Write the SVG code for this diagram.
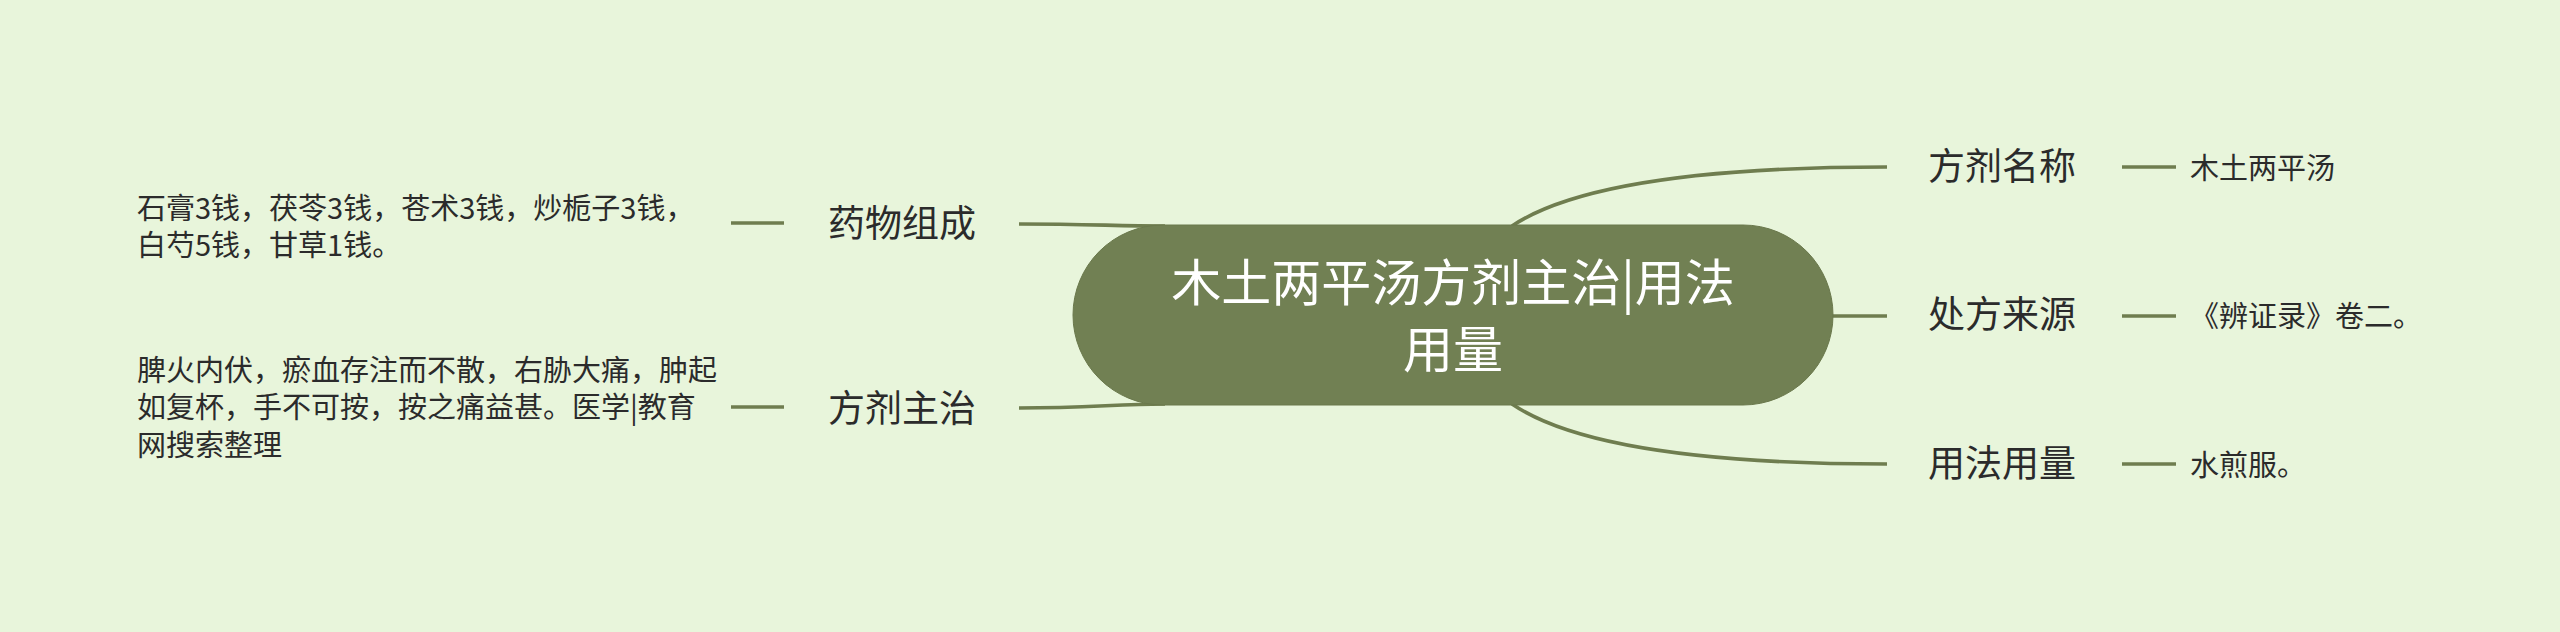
<svg xmlns="http://www.w3.org/2000/svg" width="2560" height="632" viewBox="0 0 2560 632">
<style>
.bg{fill:#e8f5db}
.conn{fill:none;stroke:#6f7d4f;stroke-width:3.6;stroke-linecap:butt}
.center{fill:#718053;stroke:#6a784c;stroke-width:1}
.ct{font-family:"Noto Sans CJK SC","Microsoft YaHei",sans-serif;font-size:50px;fill:#ffffff;text-anchor:middle}
.l1{font-family:"Noto Sans CJK SC","Microsoft YaHei",sans-serif;font-size:37px;fill:#2b2b2b}
.lf{font-family:"Noto Sans CJK SC","Microsoft YaHei",sans-serif;font-size:29px;fill:#2b2b2b}
</style>
<rect class="bg" x="0" y="0" width="2560" height="632"/>
<g id="connectors">
<path class="conn" d="M1512,226 Q1600,167 1887,167"/>
<path class="conn" d="M1832,316 L1887,316"/>
<path class="conn" d="M1512,404 Q1600,464 1887,464"/>
<path class="conn" d="M1019,224 C1090,224 1115,226 1165,226"/>
<path class="conn" d="M1019,408 C1090,408 1115,404 1165,404"/>
<path class="conn" d="M731,223 L784,223"/>
<path class="conn" d="M731,407 L784,407"/>
<path class="conn" d="M2122,167 L2176,167"/>
<path class="conn" d="M2122,316 L2176,316"/>
<path class="conn" d="M2122,464 L2176,464"/>
</g>
<g id="center">
<rect class="center" x="1073" y="225" width="760" height="180" rx="90" ry="90"/>
<text class="ct" x="1453" y="301">木土两平汤方剂主治|用法</text>
<text class="ct" x="1453" y="368">用量</text>
</g>
<g id="n-fjmc"><text class="l1" x="1928" y="180">方剂名称</text></g>
<g id="n-cfly"><text class="l1" x="1928" y="328">处方来源</text></g>
<g id="n-yfyl"><text class="l1" x="1928" y="477">用法用量</text></g>
<g id="n-ywzc"><text class="l1" x="828" y="237">药物组成</text></g>
<g id="n-fjzz"><text class="l1" x="828" y="422">方剂主治</text></g>
<g id="leaf-name"><text class="lf" x="2190" y="179">木土两平汤</text></g>
<g id="leaf-source"><text class="lf" x="2190" y="327">《辨证录》卷二。</text></g>
<g id="leaf-usage"><text class="lf" x="2190" y="476">水煎服。</text></g>
<g id="leaf-herbs">
<text class="lf" x="137" y="219">石膏3钱，茯苓3钱，苍术3钱，炒栀子3钱，</text>
<text class="lf" x="137" y="256">白芍5钱，甘草1钱。</text>
</g>
<g id="leaf-indication">
<text class="lf" x="137" y="381">脾火内伏，瘀血存注而不散，右胁大痛，肿起</text>
<text class="lf" x="137" y="418">如复杯，手不可按，按之痛益甚。医学|教育</text>
<text class="lf" x="137" y="456">网搜索整理</text>
</g>
</svg>
